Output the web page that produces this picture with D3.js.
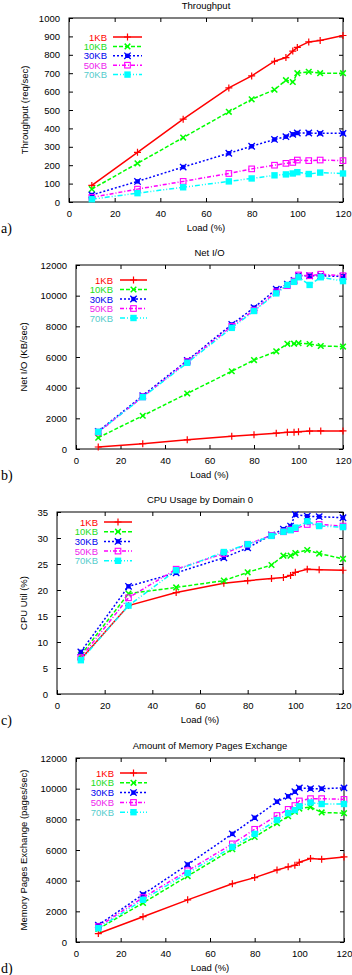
<!DOCTYPE html>
<html>
<head>
<meta charset="utf-8">
<script src="https://cdn.jsdelivr.net/npm/d3@7/dist/d3.min.js"></script>
<style>
  body { margin: 0; background: #fff; }
  svg { display: block; }
  text { font-family: "Liberation Sans", Arial, sans-serif; }
</style>
</head>
<body>
<svg id="canvas" width="352" height="975"></svg>
<script>
// load levels (%) shared by every panel
const loads = [10, 30, 50, 70, 80, 90, 95, 98, 100, 105, 110, 120];
const seriesNames = ["1KB", "10KB", "30KB", "50KB", "70KB"];
const xTicks = [0, 20, 40, 60, 80, 100, 120];

// a) throughput (req/sec)
const thr1 = [90, 270, 450, 620, 685, 765, 785, 820, 840, 870, 878, 905];
const thr10 = [70, 210, 350, 490, 558, 610, 662, 652, 700, 708, 700, 700];
const thr30 = [38, 112, 190, 265, 303, 340, 355, 368, 375, 375, 373, 373];
const thr50 = [25, 70, 112, 155, 180, 200, 210, 215, 228, 225, 228, 225];
const thr70 = [15, 48, 80, 112, 128, 145, 150, 155, 162, 152, 160, 155];
const thrTicks = [0, 100, 200, 300, 400, 500, 600, 700, 800, 900, 1000];

// b) net I/O (KB/sec)
const net1 = [130, 350, 600, 830, 930, 1030, 1090, 1100, 1120, 1170, 1180, 1180];
const net10 = [740, 2170, 3620, 5070, 5800, 6370, 6860, 6870, 6900, 6850, 6720, 6680];
const net30 = [1150, 3480, 5780, 8120, 9220, 10420, 10750, 11000, 11300, 11300, 11300, 11250];
const net50 = [1100, 3400, 5700, 8000, 9050, 10250, 10650, 10950, 11350, 11300, 11400, 11300];
const net70 = [1120, 3380, 5620, 7900, 9000, 10150, 10700, 10900, 11200, 10700, 11200, 10950];
const netTicks = [0, 2000, 4000, 6000, 8000, 10000, 12000];

// c) CPU usage by domain 0 (%)
const cpu1 = [6.7, 17.0, 19.5, 21.3, 21.8, 22.2, 22.4, 22.8, 23.4, 24.0, 23.9, 23.8];
const cpu10 = [7.5, 19.3, 20.5, 21.8, 23.4, 24.8, 26.6, 26.6, 27.1, 27.7, 27.0, 26.0];
const cpu30 = [8.1, 20.7, 23.3, 26.2, 28.1, 30.6, 31.7, 32.3, 34.5, 34.2, 34.1, 33.9];
const cpu50 = [7.0, 18.5, 24.0, 27.0, 28.8, 30.5, 31.2, 31.6, 31.8, 32.6, 32.6, 32.3];
const cpu70 = [6.5, 17.0, 23.8, 27.3, 28.8, 30.4, 31.2, 31.5, 32.0, 33.2, 32.3, 32.1];
const cpuTicks = [0, 5, 10, 15, 20, 25, 30, 35];

// d) memory pages exchange (pages/sec)
const mem1 = [550, 1650, 2750, 3800, 4200, 4700, 4900, 5000, 5200, 5450, 5400, 5550];
const mem10 = [850, 2550, 4300, 6050, 6850, 7750, 8200, 8500, 8700, 8800, 8450, 8400];
const mem30 = [1100, 3100, 5050, 7050, 8100, 9150, 9500, 9800, 10050, 10000, 10000, 10050];
const mem50 = [1000, 2900, 4650, 6400, 7350, 8250, 8650, 8900, 9200, 9350, 9350, 9300];
const mem70 = [900, 2750, 4500, 6200, 7050, 7950, 8400, 8600, 8850, 9100, 9000, 9000];
const memTicks = [0, 2000, 4000, 6000, 8000, 10000, 12000];

const colors = ["#ff0000", "#00ff00", "#0000ff", "#ff00ff", "#00ffff"];
const textColors = ["#ff0000", "#22dd22", "#0000ee", "#ee22ee", "#55cccc"];
const dashes = [null, "4,2", "2,2", "4,2,1,2", "5,2,1,2,1,2"];
const markerTypes = ["plus", "cross", "star", "square", "filled"];

const panels = [
  { letter: "a)", title: "Throughput", ylabel: "Throughput (req/sec)",
    series: [thr1, thr10, thr30, thr50, thr70], yTicks: thrTicks,
    left: 69, right: 343, top: 18, bottom: 202, ylabelX: 25,
    legend: { textX: 107, y: 37, step: 9.4, x0: 113, x1: 142 } },
  { letter: "b)", title: "Net I/O", ylabel: "Net I/O (KB/sec)",
    series: [net1, net10, net30, net50, net70], yTicks: netTicks,
    left: 76, right: 343, top: 265, bottom: 449, ylabelX: 24,
    legend: { textX: 113, y: 280, step: 9.5, x0: 120, x1: 147 } },
  { letter: "c)", title: "CPU Usage by Domain 0", ylabel: "CPU Util (%)",
    series: [cpu1, cpu10, cpu30, cpu50, cpu70], yTicks: cpuTicks,
    left: 57, right: 343, top: 512, bottom: 694, ylabelX: 24,
    legend: { textX: 98, y: 522, step: 9.7, x0: 104, x1: 132 } },
  { letter: "d)", title: "Amount of Memory Pages Exchange", ylabel: "Memory Pages Exchange (pages/sec)",
    series: [mem1, mem10, mem30, mem50, mem70], yTicks: memTicks,
    left: 76, right: 344, top: 758, bottom: 942, ylabelX: 24,
    legend: { textX: 114, y: 773, step: 9.8, x0: 120, x1: 147 } }
];

const svg = d3.select("#canvas");
const fmt = d3.format("d");

function drawMarker(g, type, x, y, color) {
  const s = 3.5;
  if (type === "plus") {
    g.append("path").attr("d", `M${x - s},${y}H${x + s}M${x},${y - s}V${y + s}`)
     .attr("stroke", color).attr("stroke-width", 1.2).attr("fill", "none");
  } else if (type === "cross") {
    g.append("path").attr("d", `M${x - 2.8},${y - 2.8}L${x + 2.8},${y + 2.8}M${x - 2.8},${y + 2.8}L${x + 2.8},${y - 2.8}`)
     .attr("stroke", color).attr("stroke-width", 1.5).attr("fill", "none");
  } else if (type === "star") {
    g.append("rect").attr("x", x - 2.2).attr("y", y - 2.2).attr("width", 4.4).attr("height", 4.4).attr("fill", color);
    g.append("path").attr("d", `M${x - 3.2},${y - 3.2}L${x + 3.2},${y + 3.2}M${x - 3.2},${y + 3.2}L${x + 3.2},${y - 3.2}`)
     .attr("stroke", color).attr("stroke-width", 1.3).attr("fill", "none");
  } else if (type === "square") {
    g.append("rect").attr("x", x - 2.8).attr("y", y - 2.8).attr("width", 5.6).attr("height", 5.6)
     .attr("fill", "none").attr("stroke", color).attr("stroke-width", 1.1);
  } else {
    g.append("rect").attr("x", x - 3.2).attr("y", y - 3.2).attr("width", 6.4).attr("height", 6.4).attr("fill", color);
  }
}

panels.forEach(p => {
  const x = d3.scaleLinear().domain([0, 120]).range([p.left, p.right]);
  const yMax = p.yTicks[p.yTicks.length - 1];
  const y = d3.scaleLinear().domain([0, yMax]).range([p.bottom, p.top]);
  const g = svg.append("g");

  // axes with inward ticks, mirrored on top and right
  const axes = [
    [d3.axisBottom(x).tickValues(xTicks).tickFormat(fmt).tickSizeInner(-4).tickSizeOuter(0).tickPadding(8), `translate(0,${p.bottom})`, true],
    [d3.axisTop(x).tickValues(xTicks).tickSizeInner(-4).tickSizeOuter(0), `translate(0,${p.top})`, false],
    [d3.axisLeft(y).tickValues(p.yTicks).tickFormat(fmt).tickSizeInner(-4).tickSizeOuter(0).tickPadding(9), `translate(${p.left},0)`, true],
    [d3.axisRight(y).tickValues(p.yTicks).tickSizeInner(-4).tickSizeOuter(0), `translate(${p.right},0)`, false]
  ];
  axes.forEach(([ax, tr, labels]) => {
    const a = g.append("g").attr("transform", tr).call(ax);
    a.select(".domain").remove();
    a.selectAll("line").attr("stroke", "#000").attr("stroke-width", 1);
    if (labels) a.selectAll("text").attr("font-size", 9.5).attr("fill", "#000").style("font-family", "Liberation Sans, Arial, sans-serif");
    else a.selectAll("text").remove();
  });

  g.append("rect").attr("x", p.left).attr("y", p.top)
   .attr("width", p.right - p.left).attr("height", p.bottom - p.top)
   .attr("fill", "none").attr("stroke", "#000").attr("stroke-width", 1);

  g.append("text").attr("x", (p.left + p.right) / 2).attr("y", p.top - 9)
   .attr("text-anchor", "middle").attr("font-size", 9.5).text(p.title);
  g.append("text").attr("x", (p.left + p.right) / 2).attr("y", p.bottom + 29)
   .attr("text-anchor", "middle").attr("font-size", 9.5).text("Load (%)");
  g.append("text").attr("transform", `translate(${p.ylabelX + 3},${(p.top + p.bottom) / 2}) rotate(-90)`)
   .attr("text-anchor", "middle").attr("font-size", 9.5).text(p.ylabel);
  g.append("text").attr("x", 1).attr("y", p.bottom + 31)
   .attr("font-size", 14).style("font-family", "Liberation Serif, serif").text(p.letter);

  const line = d3.line().x((d, i) => x(loads[i])).y(d => y(d));

  p.series.forEach((vals, si) => {
    const sg = g.append("g");
    sg.append("path").datum(vals).attr("d", line)
      .attr("fill", "none").attr("stroke", colors[si]).attr("stroke-width", 1.5)
      .attr("stroke-dasharray", dashes[si]);
    vals.forEach((v, i) => drawMarker(sg, markerTypes[si], x(loads[i]), y(v), colors[si]));

    // legend row
    const ly = p.legend.y + si * p.legend.step;
    sg.append("text").attr("x", p.legend.textX).attr("y", ly + 3.5)
      .attr("text-anchor", "end").attr("font-size", 9.5).attr("fill", textColors[si]).text(seriesNames[si]);
    sg.append("line").attr("x1", p.legend.x0).attr("x2", p.legend.x1).attr("y1", ly).attr("y2", ly)
      .attr("stroke", colors[si]).attr("stroke-width", 1.5).attr("stroke-dasharray", dashes[si]);
    drawMarker(sg, markerTypes[si], (p.legend.x0 + p.legend.x1) / 2, ly, colors[si]);
  });
});
</script>
</body>
</html>
